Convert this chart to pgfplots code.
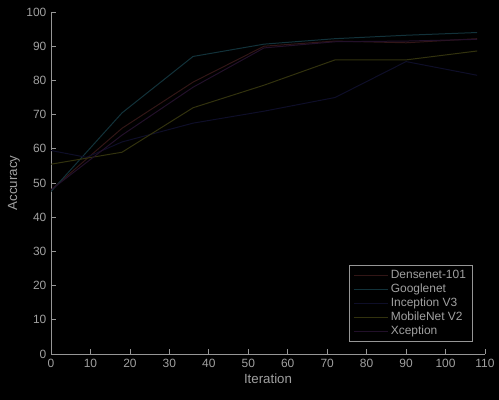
\documentclass[border=0pt]{standalone}
\usepackage{pgfplots}
\pgfplotsset{compat=1.18}
\usepackage{fontspec}
\setmainfont{Liberation Sans}
\definecolor{axgray}{RGB}{150,150,150}
\definecolor{txtgray}{RGB}{160,160,160}
\definecolor{cDense}{RGB}{50,22,22}
\definecolor{cGoogle}{RGB}{18,50,58}
\definecolor{cIncep}{RGB}{14,14,40}
\definecolor{cMobile}{RGB}{50,50,14}
\definecolor{cXcep}{RGB}{34,16,42}
\begin{document}
\begin{tikzpicture}
\fill[black] (-38.25bp,-34.5bp) rectangle (336bp,265.5bp);
\begin{axis}[
  at={(0,0)}, anchor=origin,
  scale only axis, width=325.5bp, height=256.5bp,
  xmin=0, xmax=110, ymin=0, ymax=100,
  xtick={0,10,...,110}, ytick={0,10,...,100},
  axis x line*=bottom, axis y line*=left,
  axis line style={axgray, line width=0.6pt, -},
  tick style={axgray, line width=0.6pt},
  tick align=inside, major tick length=3.5pt,
  ticklabel style={txtgray, font=\fontsize{9}{10}\selectfont},
  /pgf/number format/assume math mode=true,
  label style={txtgray, font=\fontsize{10}{12}\selectfont},
  xlabel={Iteration}, ylabel={Accuracy},
  xlabel style={yshift=2pt},
  ylabel style={yshift=-2pt},
  legend style={at={(0.972,0.035)}, anchor=south east, fill=black, draw=axgray,
    text=txtgray, font=\fontsize{9}{10}\selectfont, row sep=-1.5pt,
    inner xsep=3pt, inner ysep=2pt},
  legend cell align=left,
  legend image code/.code={\draw[#1, line width=0.9pt] (0cm,0cm) -- (0.9cm,0cm);},
  every axis plot/.append style={line width=0.75pt, mark=none},
]
\addplot[cDense] coordinates {(0,48) (18,66) (36,79.5) (54,90) (72,91.5) (90,91) (108,92.2)};
\addlegendentry{Densenet-101}
\addplot[cGoogle] coordinates {(0,47.5) (18,70.5) (36,87) (54,90.6) (72,92.2) (90,93.2) (108,94)};
\addlegendentry{Googlenet}
\addplot[cIncep] coordinates {(0,59.5) (9,57.5) (18,62) (36,67.5) (54,71) (72,75) (90,85.5) (108,81.5)};
\addlegendentry{Inception V3}
\addplot[cMobile] coordinates {(0,55.5) (18,59) (36,72) (54,78.6) (72,86) (90,86) (108,88.6)};
\addlegendentry{MobileNet V2}
\addplot[cXcep] coordinates {(0,48) (18,64) (36,78) (54,89.5) (72,91.3) (90,91.5) (108,92)};
\addlegendentry{Xception}
\end{axis}
\end{tikzpicture}
\end{document}
